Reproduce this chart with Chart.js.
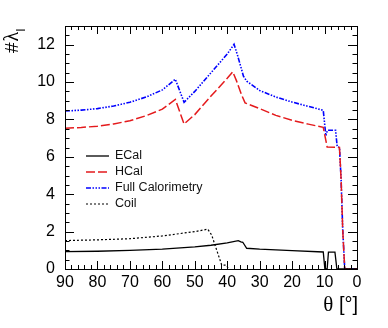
<!DOCTYPE html>
<html>
<head>
<meta charset="utf-8">
<script src="https://cdn.jsdelivr.net/npm/chart.js@4"></script>
<style>
  html, body { margin: 0; padding: 0; background: #fff; }
  #wrap { width: 388px; height: 328px; }
</style>
</head>
<body>
<div id="wrap"><canvas id="chart" width="388" height="328"></canvas></div>
<script>
// ---- data ----
const fullTheta = [90, 85, 80, 75, 70, 65, 60, 56, 53.3, 50, 45, 40, 37.9, 36.9, 35, 34, 30, 25, 20, 15, 10.4, 9.6, 9.1, 6.6, 6.1, 5.4, 4.9, 4.4, 3.8, 3.5, 0];
const fullValues = [8.45, 8.5, 8.58, 8.72, 8.92, 9.2, 9.58, 10.15, 8.92, 9.5, 10.5, 11.5, 12.02, 11.48, 10.32, 10.05, 9.55, 9.2, 8.93, 8.7, 8.49, 7.13, 7.42, 7.42, 6.53, 6.5, 4.8, 2.1, 0.05, 0, 0];

const hcalTheta = [90, 85, 80, 75, 70, 65, 60, 56, 53.3, 50, 45, 40, 38.3, 37.1, 35.6, 34.5, 30, 25, 20, 15, 10.4, 9.2, 5.4, 4.9, 4.4, 3.8, 3.5, 0];
const hcalValues = [7.53, 7.57, 7.64, 7.76, 7.93, 8.2, 8.55, 9.07, 7.76, 8.26, 9.25, 10.2, 10.55, 10.05, 9.33, 8.89, 8.58, 8.22, 7.95, 7.75, 7.58, 6.53, 6.5, 4.8, 2.1, 0.05, 0, 0];

const ecalTheta = [90, 80, 70, 60, 50, 45, 40, 36.6, 35.8, 35.2, 34, 30, 20, 10.4, 9.9, 9.2, 8.8, 6.8, 6.2, 0];
const ecalValues = [0.93, 0.95, 1.0, 1.06, 1.18, 1.27, 1.4, 1.52, 1.45, 1.43, 1.11, 1.06, 0.98, 0.91, 0, 0, 0.9, 0.9, 0, 0];

const coilTheta = [90, 80, 70, 60, 50, 46, 44.8, 41.7, 40.2, 39.6];
const coilValues = [1.52, 1.56, 1.62, 1.77, 2.0, 2.13, 1.82, 0.21, 0.2, 0];

const seriesNames = ["ECal", "HCal", "Full Calorimetry", "Coil"];
const xTickLabels = [90, 80, 70, 60, 50, 40, 30, 20, 10, 0];
const yTickLabels = [0, 2, 4, 6, 8, 10, 12];

const FONT = "'Liberation Sans', Arial, Helvetica, sans-serif";
const SERIF = "'Liberation Serif', 'Times New Roman', serif";

function toPoints(xs, ys) {
  return xs.map((x, i) => ({ x, y: ys[i] }));
}

/**
 * ROOT-style frame with inward ticks on all four sides, titles and legend.
 */
const framePlugin = {
  id: "frame",
  afterDatasetsDraw(chart) {
    const { ctx, chartArea: a, scales } = chart;
    const xs = scales.x, ys = scales.y;
    ctx.save();
    ctx.strokeStyle = "#000";
    ctx.lineWidth = 1;
    ctx.beginPath();
    // x ticks, every 2 deg, major every 10
    for (let v = 0; v <= 90; v += 2) {
      const px = Math.round(xs.getPixelForValue(v)) + 0.5;
      const len = v % 10 === 0 ? 8 : 4;
      ctx.moveTo(px, a.bottom); ctx.lineTo(px, a.bottom - len);
      ctx.moveTo(px, a.top); ctx.lineTo(px, a.top + len);
    }
    // y ticks, every 0.5, major every 2
    for (let v = 0; v <= 13; v += 0.5) {
      const py = Math.round(ys.getPixelForValue(v)) + 0.5;
      const len = v % 2 === 0 ? 9 : 4.5;
      ctx.moveTo(a.left, py); ctx.lineTo(a.left + len, py);
      ctx.moveTo(a.right, py); ctx.lineTo(a.right - len, py);
    }
    ctx.stroke();
    ctx.strokeRect(Math.round(a.left) + 0.5, Math.round(a.top) + 0.5,
      Math.round(a.right - a.left), Math.round(a.bottom - a.top));

    // x title: serif theta, sans brackets
    ctx.fillStyle = "#000";
    ctx.textBaseline = "alphabetic";
    ctx.textAlign = "right";
    ctx.font = "20px " + FONT;
    const tail = " [\u00b0]";
    ctx.fillText(tail, 358, 311);
    const tailW = ctx.measureText(tail).width;
    ctx.font = "21px " + SERIF;
    ctx.fillText("\u03b8", 358 - tailW, 311);

    // y title
    ctx.translate(18, 53);
    ctx.rotate(-Math.PI / 2);
    ctx.textAlign = "left";
    ctx.font = "19px " + FONT;
    ctx.fillText("#", 0, 0);
    const hashW = ctx.measureText("#").width;
    ctx.font = "20px " + SERIF;
    ctx.fillText("\u03bb", hashW + 1, 0);
    const lamW = ctx.measureText("\u03bb").width;
    ctx.font = "12px " + FONT;
    ctx.fillText("I", hashW + lamW + 1, 7);
    ctx.restore();

    // legend
    ctx.save();
    ctx.font = "12.5px " + FONT;
    ctx.textBaseline = "middle";
    ctx.textAlign = "left";
    chart.data.datasets.forEach((ds, i) => {
      const y = 156 + i * 16;
      ctx.strokeStyle = ds.borderColor;
      ctx.lineWidth = ds.borderWidth;
      ctx.setLineDash(ds.borderDash || []);
      ctx.beginPath();
      ctx.moveTo(86, y);
      ctx.lineTo(109, y);
      ctx.stroke();
      ctx.setLineDash([]);
      ctx.fillStyle = "#111";
      ctx.fillText(ds.label, 115, y);
    });
    ctx.restore();
  },
};

new Chart(document.getElementById("chart"), {
  type: "line",
  data: {
    datasets: [
      {
        label: seriesNames[0],
        data: toPoints(ecalTheta, ecalValues),
        borderColor: "#000000",
        borderWidth: 1.3,
      },
      {
        label: seriesNames[1],
        data: toPoints(hcalTheta, hcalValues),
        borderColor: "#e41a1c",
        borderWidth: 1.5,
        borderDash: [9, 3],
      },
      {
        label: seriesNames[2],
        data: toPoints(fullTheta, fullValues),
        borderColor: "#0000ff",
        borderWidth: 1.6,
        borderDash: [5, 1.5, 1.5, 1.5, 1.5, 1.5, 1.5, 1.5],
      },
      {
        label: seriesNames[3],
        data: toPoints(coilTheta, coilValues),
        borderColor: "#000000",
        borderWidth: 1.2,
        borderDash: [2, 2],
      },
    ],
  },
  options: {
    responsive: false,
    animation: false,
    devicePixelRatio: 1,
    elements: {
      point: { radius: 0 },
      line: { tension: 0, fill: false },
    },
    layout: { padding: { top: 26, right: 31, left: 0, bottom: 0 } },
    plugins: {
      legend: { display: false },
      tooltip: { enabled: false },
    },
    scales: {
      x: {
        type: "linear",
        reverse: true,
        min: 0,
        max: 90,
        afterFit: (s) => { s.height = 59; },
        afterBuildTicks: (s) => { s.ticks = xTickLabels.map((v) => ({ value: v })); },
        grid: { display: false, drawTicks: false },
        border: { display: false },
        ticks: {
          color: "#000",
          padding: 4,
          maxRotation: 0,
          autoSkip: false,
          font: { family: FONT, size: 16 },
        },
      },
      y: {
        min: 0,
        max: 13,
        afterFit: (s) => { s.width = 65; },
        afterBuildTicks: (s) => { s.ticks = yTickLabels.map((v) => ({ value: v })); },
        grid: { display: false, drawTicks: false },
        border: { display: false },
        ticks: {
          color: "#000",
          padding: 10,
          autoSkip: false,
          font: { family: FONT, size: 16 },
        },
      },
    },
  },
  plugins: [framePlugin],
});
</script>
</body>
</html>
